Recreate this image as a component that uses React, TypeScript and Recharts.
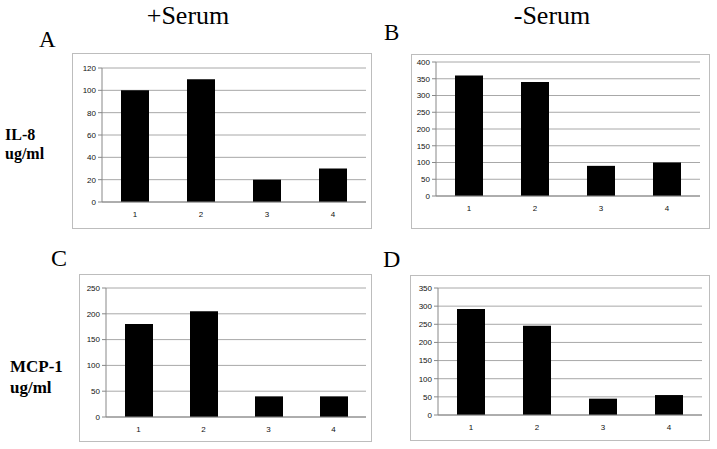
import { BarChart, Bar, XAxis, YAxis, CartesianGrid } from "recharts";

const categories = ["1", "2", "3", "4"];
const il8Serum = [100, 110, 20, 30];
const il8NoSerum = [360, 340, 90, 100];
const mcp1Serum = [180, 205, 40, 40];
const mcp1NoSerum = [292, 246, 45, 55];

const ticksA = [0, 20, 40, 60, 80, 100, 120];
const ticksB = [0, 50, 100, 150, 200, 250, 300, 350, 400];
const ticksC = [0, 50, 100, 150, 200, 250];
const ticksD = [0, 50, 100, 150, 200, 250, 300, 350];

const toRows = (values: number[]) =>
    categories.map((c, i) => ({ name: c, value: values[i] }));

type PanelProps = {
    values: number[];
    ticks: number[];
    box: [number, number, number, number];
    plot: [number, number, number, number];
};

function Panel({ values, ticks, box, plot }: PanelProps) {
    const [bx, by, bw, bh] = box;
    const [pl, pt, pr, pb] = plot;
    const tickStyle = { fontSize: 8, fontFamily: "Liberation Sans", fill: "#111" };
    return (
        <div
            style={{
                position: "absolute",
                left: bx,
                top: by,
                width: bw,
                height: bh,
                outline: "1px solid #bdbdbd",
                outlineOffset: -1,
            }}
        >
            <BarChart
                width={bw}
                height={bh}
                data={toRows(values)}
                margin={{ top: pt - by, right: bx + bw - pr, bottom: 0, left: 0 }}
                barSize={28}
            >
                <CartesianGrid vertical={false} stroke="#a8a8a8" strokeWidth={1} />
                <XAxis
                    dataKey="name"
                    height={by + bh - pb}
                    axisLine={{ stroke: "#888" }}
                    tickLine={false}
                    tickSize={0}
                    tickMargin={9}
                    tick={tickStyle}
                />
                <YAxis
                    width={pl - bx}
                    domain={[ticks[0], ticks[ticks.length - 1]]}
                    ticks={ticks}
                    interval={0}
                    axisLine={{ stroke: "#888" }}
                    tickLine={{ stroke: "#888" }}
                    tickSize={4}
                    tickMargin={2}
                    tick={tickStyle}
                />
                <Bar dataKey="value" fill="#000" isAnimationActive={false} />
            </BarChart>
        </div>
    );
}

export default function App() {
    const serif = "Liberation Serif";
    return (
        <div
            style={{
                position: "absolute",
                left: 0,
                top: 0,
                width: 717,
                height: 449,
                background: "#fff",
            }}
        >
            <Panel values={il8Serum} ticks={ticksA} box={[72, 53, 300, 176]} plot={[102, 68, 366, 202]} />
            <Panel values={il8NoSerum} ticks={ticksB} box={[411, 54, 299, 175]} plot={[436, 62, 700, 196]} />
            <Panel values={mcp1Serum} ticks={ticksC} box={[79, 274, 293, 168]} plot={[106, 288, 366, 417]} />
            <Panel values={mcp1NoSerum} ticks={ticksD} box={[410, 275, 300, 166]} plot={[438, 288, 702, 415]} />
            <svg
                width={717}
                height={449}
                style={{ position: "absolute", left: 0, top: 0, pointerEvents: "none" }}
            >
                <g fontFamily={serif} fill="#000">
                    <text x={188} y={24} fontSize={26} textAnchor="middle">+Serum</text>
                    <text x={552} y={24} fontSize={26} textAnchor="middle">-Serum</text>
                    <text x={39} y={47} fontSize={23}>A</text>
                    <text x={384} y={40} fontSize={23}>B</text>
                    <text x={51} y={266} fontSize={24}>C</text>
                    <text x={383} y={267} fontSize={24}>D</text>
                    <g fontWeight="bold">
                        <text x={5} y={140} fontSize={16}>IL-8</text>
                        <text x={5} y={159} fontSize={16}>ug/ml</text>
                        <text x={10} y={372} fontSize={17}>MCP-1</text>
                        <text x={10} y={393} fontSize={17}>ug/ml</text>
                    </g>
                </g>
            </svg>
        </div>
    );
}
